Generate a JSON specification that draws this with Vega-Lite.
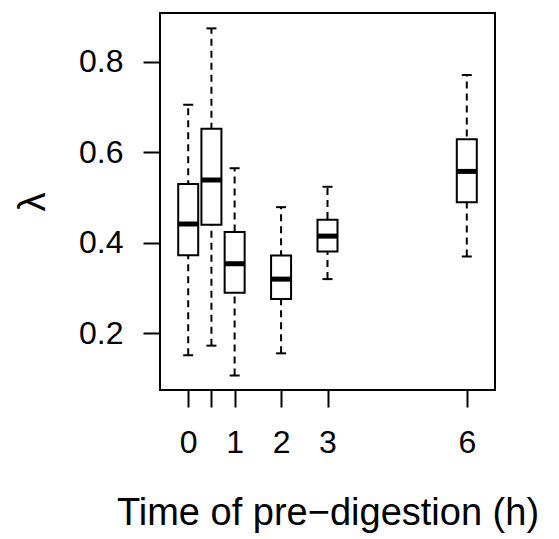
{
  "$schema": "https://vega.github.io/schema/vega-lite/v6.json",
  "width": 335,
  "height": 377,
  "autosize": "none",
  "padding": {"left": 160, "top": 13, "right": 64, "bottom": 149},
  "background": "white",
  "config": {
    "view": {"stroke": "black", "strokeWidth": 2},
    "font": "Liberation Sans",
    "axis": {
      "domain": false,
      "grid": false,
      "tickColor": "black",
      "tickWidth": 2,
      "tickSize": 17,
      "labelColor": "black",
      "labelFontSize": 32,
      "labelFont": "Liberation Sans",
      "titleFont": "Liberation Sans",
      "titleFontWeight": "normal",
      "titleColor": "black",
      "titleFontSize": 38
    }
  },
  "data": {
    "values": [
      {"t": 0, "lo": 0.152, "q1": 0.373, "med": 0.442, "q3": 0.530, "hi": 0.705},
      {"t": 0.5, "lo": 0.173, "q1": 0.440, "med": 0.539, "q3": 0.652, "hi": 0.874},
      {"t": 1, "lo": 0.107, "q1": 0.290, "med": 0.354, "q3": 0.424, "hi": 0.565},
      {"t": 2, "lo": 0.156, "q1": 0.276, "med": 0.320, "q3": 0.372, "hi": 0.479},
      {"t": 3, "lo": 0.320, "q1": 0.381, "med": 0.415, "q3": 0.451, "hi": 0.524},
      {"t": 6, "lo": 0.370, "q1": 0.490, "med": 0.558, "q3": 0.629, "hi": 0.771}
    ]
  },
  "encoding": {
    "x": {
      "field": "t",
      "type": "quantitative",
      "scale": {"domain": [-0.5, 6.5], "nice": false, "zero": false},
      "axis": {
        "title": "Time of pre−digestion (h)",
        "values": [0, 0.5, 1, 2, 3, 6],
        "labelExpr": "datum.value == 0.5 ? '' : datum.label",
        "format": "~g",
        "labelPadding": 20,
        "titlePadding": 36
      }
    }
  },
  "layer": [
    {
      "mark": {"type": "rule", "strokeDash": [7, 5], "strokeWidth": 2, "color": "black"},
      "encoding": {
        "y": {
          "field": "lo",
          "type": "quantitative",
          "scale": {"domain": [0.075, 0.908], "nice": false, "zero": false},
          "axis": {
            "title": "λ",
            "values": [0.2, 0.4, 0.6, 0.8],
            "format": ".1f",
            "labelPadding": 20,
            "titlePadding": 26,
            "titleFontSize": 38
          }
        },
        "y2": {"field": "hi"}
      }
    },
    {
      "mark": {"type": "tick", "orient": "horizontal", "size": 10, "thickness": 2, "color": "black", "opacity": 1},
      "encoding": {"y": {"field": "lo", "type": "quantitative"}}
    },
    {
      "mark": {"type": "tick", "orient": "horizontal", "size": 10, "thickness": 2, "color": "black", "opacity": 1},
      "encoding": {"y": {"field": "hi", "type": "quantitative"}}
    },
    {
      "mark": {"type": "bar", "size": 20, "fill": "white", "stroke": "black", "strokeWidth": 2, "opacity": 1},
      "encoding": {
        "y": {"field": "q1", "type": "quantitative"},
        "y2": {"field": "q3"}
      }
    },
    {
      "mark": {"type": "tick", "orient": "horizontal", "size": 20, "thickness": 5, "color": "black", "opacity": 1},
      "encoding": {"y": {"field": "med", "type": "quantitative"}}
    }
  ]
}
